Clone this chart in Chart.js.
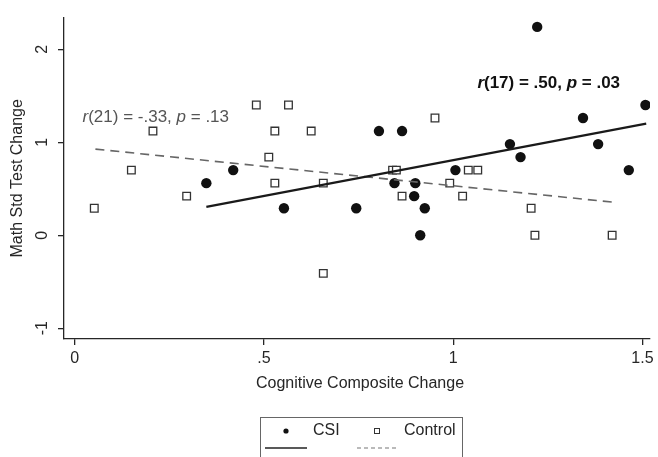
<!DOCTYPE html>
<html>
<head>
<meta charset="utf-8">
<script src="https://cdn.jsdelivr.net/npm/chart.js@4"></script>
<style>
  body { margin: 0; background: #fff; }
  canvas { display: block; }
</style>
</head>
<body>
<canvas id="chart" width="658" height="457"></canvas>
<script>
// CSI group (filled circles)
const csiX = [0.348, 0.419, 0.553, 1.222, 1.508, 1.343, 0.804, 0.865, 1.150, 1.178,
              1.383, 1.006, 1.464, 0.845, 0.900, 0.897, 0.744, 0.925, 0.913];
const csiY = [0.56, 0.70, 0.29, 2.24, 1.40, 1.26, 1.12, 1.12, 0.98, 0.84,
              0.98, 0.70, 0.70, 0.56, 0.56, 0.42, 0.29, 0.29, 0.00];

// Control group (hollow squares)
const ctlX = [0.207, 0.150, 0.480, 0.565, 0.529, 0.625, 0.513, 0.529, 0.657, 0.296,
              0.052, 0.657, 0.952, 0.840, 0.850, 1.040, 1.065, 0.991, 0.865, 1.025,
              1.206, 1.216, 1.420];
const ctlY = [1.12, 0.70, 1.40, 1.40, 1.12, 1.12, 0.84, 0.56, 0.56, 0.42,
              0.29, -0.41, 1.26, 0.70, 0.70, 0.70, 0.70, 0.56, 0.42, 0.42,
              0.29, 0.00, 0.00];

// fitted lines (end points)
const csiFitX = [0.348, 1.510];
const csiFitY = [0.305, 1.200];
const ctlFitX = [0.055, 1.423];
const ctlFitY = [0.926, 0.355];

const xTicks = [0, 0.5, 1, 1.5];
const xTickLabels = ["0", ".5", "1", "1.5"];
const yTicks = [-1, 0, 1, 2];

const toPts = (xs, ys) => xs.map((x, i) => ({x: x, y: ys[i]}));

const FONT = "'Liberation Sans', Arial, Helvetica, sans-serif";
const INK = "#262626";

const extras = {
    id: "extras",
    afterDraw(c) {
        const ctx = c.ctx;
        const xs = c.scales.x, ys = c.scales.y;
        ctx.save();
        ctx.textBaseline = "middle";

        // r annotations
        let px = xs.getPixelForValue(0.021), py = ys.getPixelForValue(1.265);
        ctx.fillStyle = "#555";
        const parts1 = [["italic", "r"], ["normal", "(21) = -.33, "], ["italic", "p"], ["normal", " = .13"]];
        for (const [st, t] of parts1) {
            ctx.font = st + " 17px " + FONT;
            ctx.fillText(t, px, py);
            px += ctx.measureText(t).width;
        }
        px = xs.getPixelForValue(1.064); py = ys.getPixelForValue(1.635);
        ctx.fillStyle = "#111";
        const parts2 = [["italic bold", "r"], ["bold", "(17) = .50, "], ["italic bold", "p"], ["bold", " = .03"]];
        for (const [st, t] of parts2) {
            ctx.font = st + " 17px " + FONT;
            ctx.fillText(t, px, py);
            px += ctx.measureText(t).width;
        }

        // axis titles
        ctx.fillStyle = INK;
        ctx.font = "16px " + FONT;
        ctx.textAlign = "center";
        ctx.fillText("Cognitive Composite Change", (xs.left + xs.right) / 2 + 3, 384);
        ctx.save();
        ctx.translate(18, (ys.top + ys.bottom) / 2);
        ctx.rotate(-Math.PI / 2);
        ctx.fillText("Math Std Test Change", 0, 0);
        ctx.restore();

        // legend box
        ctx.strokeStyle = "#666";
        ctx.lineWidth = 1;
        ctx.strokeRect(260.5, 417.5, 202, 60);
        ctx.textAlign = "left";
        ctx.fillStyle = INK;
        ctx.fillText("CSI", 313, 431);
        ctx.fillText("Control", 404, 431);
        ctx.fillStyle = "#111";
        ctx.beginPath();
        ctx.arc(286, 431, 2.6, 0, Math.PI * 2);
        ctx.fill();
        ctx.strokeStyle = "#333";
        ctx.strokeRect(374.5, 428.5, 5, 5);
        ctx.strokeStyle = "#222";
        ctx.lineWidth = 1.6;
        ctx.beginPath(); ctx.moveTo(265, 448); ctx.lineTo(307, 448); ctx.stroke();
        ctx.strokeStyle = "#777";
        ctx.lineWidth = 1.2;
        ctx.setLineDash([4, 3]);
        ctx.beginPath(); ctx.moveTo(357, 448); ctx.lineTo(399, 448); ctx.stroke();
        ctx.restore();
    }
};

new Chart(document.getElementById("chart"), {
    type: "scatter",
    data: {
        datasets: [
            {
                label: "CSI fit", type: "line", data: toPts(csiFitX, csiFitY),
                borderColor: "#1a1a1a", borderWidth: 2.2, pointRadius: 0, fill: false
            },
            {
                label: "Control fit", type: "line", data: toPts(ctlFitX, ctlFitY),
                borderColor: "#666", borderWidth: 1.6, borderDash: [9, 6], pointRadius: 0, fill: false
            },
            {
                label: "CSI", data: toPts(csiX, csiY),
                pointStyle: "circle", pointRadius: 5.2, pointHoverRadius: 5.2,
                backgroundColor: "#111", borderColor: "#111", borderWidth: 0
            },
            {
                label: "Control", data: toPts(ctlX, ctlY),
                pointStyle: "rect", pointRadius: 5.4, pointHoverRadius: 5.4,
                backgroundColor: "#fff", borderColor: "#333", borderWidth: 1.3
            }
        ]
    },
    options: {
        responsive: false,
        animation: false,
        layout: { padding: { top: 11, right: 8, bottom: 80, left: 0 } },
        plugins: { legend: { display: false }, tooltip: { enabled: false } },
        scales: {
            x: {
                type: "linear", min: -0.028, max: 1.52,
                afterBuildTicks: s => { s.ticks = xTicks.map(v => ({value: v})); },
                afterFit: s => { s.height = 38; },
                grid: { drawOnChartArea: false, tickLength: 6, color: INK, lineWidth: 1.3 },
                border: { color: INK, width: 1.3 },
                ticks: {
                    padding: 4, color: INK, font: { family: FONT, size: 16 },
                    maxRotation: 0, autoSkip: false,
                    callback: v => xTickLabels[xTicks.indexOf(v)]
                }
            },
            y: {
                type: "linear", min: -1.116, max: 2.34,
                afterBuildTicks: s => { s.ticks = yTicks.map(v => ({value: v})); },
                afterFit: s => { s.width = 64; },
                grid: { drawOnChartArea: false, tickLength: 6, color: INK, lineWidth: 1.3 },
                border: { color: INK, width: 1.3 },
                ticks: {
                    padding: 8, color: INK, font: { family: FONT, size: 16 },
                    minRotation: 90, maxRotation: 90, crossAlign: "center",
                    callback: v => String(v)
                }
            }
        }
    },
    plugins: [extras]
});
</script>
</body>
</html>
